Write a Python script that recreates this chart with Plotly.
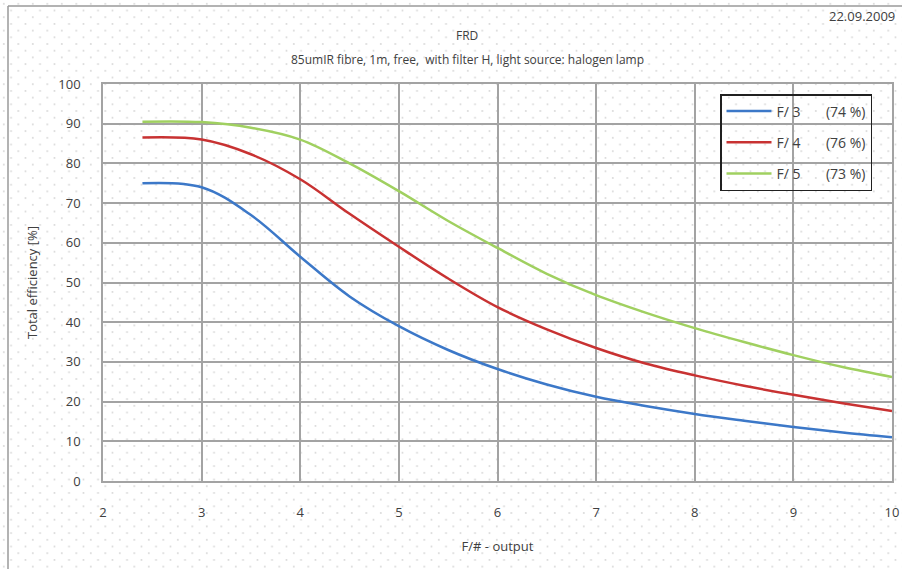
import base64
import plotly.graph_objects as go

f_number = [2.4, 3.0, 3.5, 4.0, 4.5, 5.0, 5.5, 6.0, 6.5, 7.0, 7.5, 8.0, 8.5, 9.0, 9.5, 10.0]
eff_f3 = [75.0, 74.0, 67.0, 56.5, 46.5, 39.0, 33.0, 28.2, 24.3, 21.2, 18.9, 16.9, 15.2, 13.6, 12.2, 11.0]
eff_f4 = [86.5, 86.0, 82.3, 76.0, 67.3, 59.0, 51.0, 43.8, 38.2, 33.5, 29.6, 26.6, 24.0, 21.7, 19.6, 17.6]
eff_f5 = [90.5, 90.4, 89.0, 86.0, 80.0, 73.0, 65.5, 58.7, 52.2, 46.8, 42.4, 38.5, 35.0, 31.7, 28.7, 26.2]
series_names = ["F/ 3       (74 %)", "F/ 4       (76 %)", "F/ 5       (73 %)"]
series_colors = ["#3c78c8", "#c83232", "#a0d060"]
x_ticks = [2, 3, 4, 5, 6, 7, 8, 9, 10]
y_ticks = [0, 10, 20, 30, 40, 50, 60, 70, 80, 90, 100]

font_family = "Open Sans, Liberation Sans, sans-serif"

W, H = 902, 569
ML, MR, MT, MB = 103, 10, 84, 88
PW = W - ML - MR
PH = H - MT - MB

# faint dotted background texture (as in the original worksheet chart)
svg = (
    f"<svg xmlns='http://www.w3.org/2000/svg' width='{W}' height='{H}' viewBox='0 0 {W} {H}'>"
    "<defs><pattern id='p' width='14.5' height='13.4' patternUnits='userSpaceOnUse'>"
    "<rect x='3' y='3' width='1.6' height='1.6' fill='#d4d4d4'/>"
    "<rect x='10.25' y='9.7' width='1.6' height='1.6' fill='#d4d4d4'/>"
    "</pattern></defs><rect width='100%' height='100%' fill='url(#p)'/></svg>"
)
bg_src = "data:image/svg+xml;base64," + base64.b64encode(svg.encode()).decode()

fig = go.Figure()
for i, (name, ys, col) in enumerate(zip(series_names, [eff_f3, eff_f4, eff_f5], series_colors)):
    fig.add_trace(go.Scatter(x=f_number, y=ys, name=name, mode="lines", legendgroup=f"g{i}",
                             line=dict(color=col, width=2.5, shape="spline", smoothing=1.0)))

axis_common = dict(showgrid=True, gridcolor="#a3a3a3", gridwidth=1.5, automargin=False,
                   showline=True, linecolor="#a3a3a3", linewidth=1.5, mirror=True,
                   zeroline=False, ticks="", tickfont=dict(size=13, color="#404040", family=font_family))

fig.update_xaxes(range=[2, 10], tickvals=x_ticks, ticklabelstandoff=19,
                 title=dict(text="F/# - output", font=dict(size=13, color="#404040", family=font_family), standoff=22),
                 **axis_common)
fig.update_yaxes(range=[0, 100], tickvals=y_ticks, ticklabelstandoff=18,
                 title=dict(text="Total efficiency [%]", font=dict(size=13, color="#404040", family=font_family), standoff=18),
                 **axis_common)

def px(x):
    return (x - ML) / PW

def py(y):
    return 1 - (y - MT) / PH

fig.update_layout(
    width=W, height=H,
    margin=dict(l=ML, r=MR, t=MT, b=MB),
    paper_bgcolor="white", plot_bgcolor="rgba(0,0,0,0)",
    font=dict(family=font_family, color="#404040"),
    images=[dict(source=bg_src, xref="paper", yref="paper",
                 x=px(0), y=py(0), sizex=W / PW, sizey=H / PH,
                 xanchor="left", yanchor="top", sizing="stretch", layer="below")],
    legend=dict(x=px(720), y=py(94), xanchor="left", yanchor="top",
                bgcolor="rgba(0,0,0,0)", bordercolor="#202020", borderwidth=1.5,
                font=dict(size=14, color="#404040", family=font_family),
                tracegroupgap=10, itemwidth=45),
    showlegend=True,
    annotations=[
        dict(text="FRD", xref="paper", yref="paper", x=px(467), y=py(36),
             yanchor="middle", showarrow=False, font=dict(size=12, color="#404040")),
        dict(text="85umIR fibre, 1m, free,  with filter H, light source: halogen lamp", xref="paper", yref="paper",
             x=px(467), y=py(59), yanchor="middle",
             showarrow=False, font=dict(size=12, color="#404040")),
        dict(text="22.09.2009", xref="paper", yref="paper", x=px(897), y=py(16),
             xanchor="right", yanchor="middle", showarrow=False, font=dict(size=13, color="#404040")),
    ],
    shapes=[
        dict(type="line", xref="paper", yref="paper", x0=px(8), x1=px(8),
             y0=py(H), y1=py(6), line=dict(color="#9a9a9a", width=1.5)),
        dict(type="line", xref="paper", yref="paper", x0=px(8), x1=px(W),
             y0=py(6), y1=py(6), line=dict(color="#9a9a9a", width=1.5)),
    ],
)

fig.write_html("out.html", config={"displayModeBar": False},
               post_script="document.body.style.margin='0';document.body.style.overflow='hidden';")
